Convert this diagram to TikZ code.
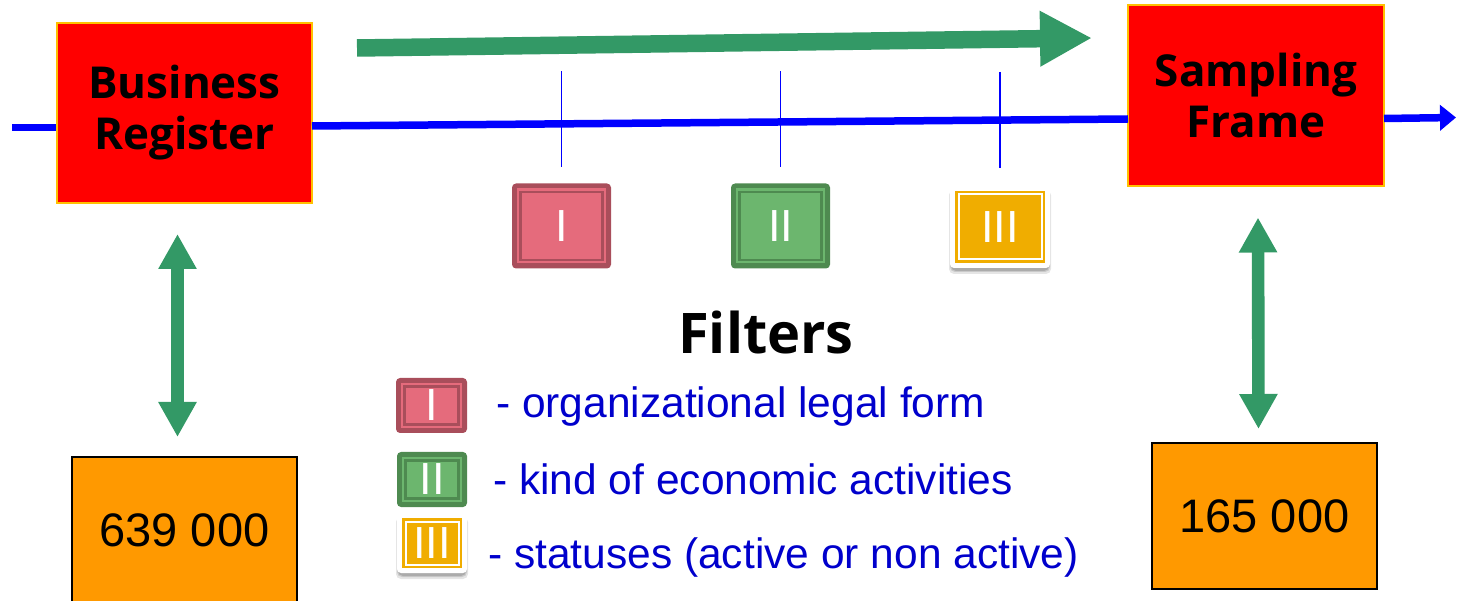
\documentclass[tikz,border=0pt]{standalone}
\usepackage{fontspec}
\setmainfont{Liberation Sans}
\newfontfamily\labfont{Open Sans}
\usetikzlibrary{arrows.meta,calc}
\definecolor{brred}{RGB}{255,0,0}
\definecolor{goldb}{RGB}{255,192,0}
\definecolor{grn}{RGB}{51,153,102}
\definecolor{blu}{RGB}{0,0,255}
\definecolor{txtblue}{RGB}{0,0,204}
\definecolor{orng}{RGB}{255,153,0}
\definecolor{rdark}{RGB}{169,78,91}
\definecolor{rlight}{RGB}{229,107,124}
\definecolor{gdark}{RGB}{78,138,80}
\definecolor{glight}{RGB}{108,182,110}
\definecolor{ylw}{RGB}{240,173,0}
\tikzset{
  redbox/.style={draw=goldb, fill=brred, line width=2pt, inner sep=0pt,
    align=center, font=\labfont\bfseries\fontsize{44}{51}\selectfont},
  numbox/.style={draw=black, fill=orng, line width=2pt, inner sep=0pt,
    minimum width=225pt, minimum height=146pt,
    font=\fontsize{47}{56}\selectfont},
  bluline/.style={draw=blu, line width=7.5pt},
  tickline/.style={draw=blu, line width=1.8pt},
  dblarrow/.style={draw=grn, line width=12.6pt,
    {Triangle[width=36pt,length=35pt]}-{Triangle[width=36pt,length=35pt]}},
  bigarrow/.style={draw=grn, line width=17.5pt, -{Triangle[width=52pt,length=52pt]}},
  numeral/.style={text=white, inner sep=0pt, font=\fontsize{45}{50}\selectfont},
  legtext/.style={text=txtblue, anchor=base west, inner sep=0pt,
    font=\fontsize{42.5}{50}\selectfont},
  softshadow/.style={fill=black, rounded corners=5pt, inner sep=0pt},
}
% #1 name, #2 position, #3 width, #4 height, #5 dark, #6 light, #7 numeral
\newcommand{\filtbox}[7]{%
  \node[fill=#5, rounded corners=4pt, minimum width=#3, minimum height=#4, inner sep=0pt] (#1) at (#2) {};
  \node[fill=#6, minimum width=#3-10, minimum height=#4-10, inner sep=0pt] (#1i) at (#2) {};
  \node[fill=#6, draw=#5, line width=2.5pt, minimum width=#3-17, minimum height=#4-17, inner sep=0pt] (#1j) at (#2) {};
  \node[numeral] (#1t) at (#2) {#7};
}
\newcommand{\statbox}[5]{%
  \node[softshadow, opacity=0.10, minimum width=#3+2, minimum height=#4+2] (#1s1) at ($(#2)+(0,5)$) {};
  \node[softshadow, opacity=0.12, minimum width=#3, minimum height=#4] (#1s2) at ($(#2)+(0,4)$) {};
  \node[softshadow, opacity=0.15, minimum width=#3-2, minimum height=#4] (#1s3) at ($(#2)+(0,3)$) {};
  \node[fill=white, rounded corners=4pt, minimum width=#3, minimum height=#4, inner sep=0pt] (#1) at (#2) {};
  \node[fill=ylw, minimum width=#3-10, minimum height=#4-10, inner sep=0pt] (#1i) at (#2) {};
  \node[draw=white, line width=2pt, minimum width=#3-17, minimum height=#4-17, inner sep=0pt] (#1j) at (#2) {};
  \node[numeral] (#1t) at (#2) {#5};
}
\begin{document}
\begin{tikzpicture}[x=1pt,y=-1pt]
\useasboundingbox (0,0) rectangle (1457,601);

% main boxes
\node[redbox, minimum width=255pt, minimum height=180pt] (br) at (184.5,113) {Business\\Register};
\node[redbox, minimum width=256pt, minimum height=181pt] (sf) at (1256,96) {Sampling\\Frame};

% blue process line
\coordinate (b0) at (12,127.5);
\coordinate (b1) at (312,126);
\coordinate (b2) at (1128,119);
\coordinate (b3) at (1384,118.5);
\coordinate (b4) at (1456,117.5);
\draw[bluline] (b0) -- (b0 -| br.west);
\draw[bluline] (b1) -- (b2);
\draw[bluline, -{Triangle[width=25pt,length=16pt]}] (b3) -- (b4);

% big green arrow
\coordinate (ga) at (357,48);
\coordinate (gb) at (1092,38);
\draw[bigarrow] (ga) -- (gb);

% filter boxes
\filtbox{f1}{561.5,226}{99}{85}{rdark}{rlight}{I}
\filtbox{f2}{780.5,226}{99}{85}{gdark}{glight}{II}
\statbox{f3}{1000,227}{100}{82}{III}

% ticks
\draw[tickline] ($(f1.north)+(0,-112)$) -- ($(f1.north)+(0,-16)$);
\draw[tickline] ($(f2.north)+(0,-112)$) -- ($(f2.north)+(0,-16)$);
\draw[tickline] ($(f3.north)+(0,-114)$) -- ($(f3.north)+(0,-18)$);

% Filters title
\node[font=\labfont\bfseries\fontsize{56}{60}\selectfont, anchor=base, inner sep=0pt] (ft) at (766,354) {Filters};

% legend
\filtbox{l1}{431.5,405.5}{71}{55}{rdark}{rlight}{I}
\filtbox{l2}{432,479.5}{70}{55}{gdark}{glight}{II}
\statbox{l3}{432,543}{70}{60}{III}
\node[legtext] (t1) at (496,418) {- organizational legal form};
\node[legtext] (t2) at (493,494) {- kind of economic activities};
\node[legtext] (t3) at (488,568) {- statuses (active or non active)};

% number boxes
\node[numbox] (n1) at (184.5,530) {639 000};
\node[numbox] (n2) at (1264.5,516) {165 000};

% double arrows
\draw[dblarrow] ($(br.south)+(-7,30)$) -- ($(n1.north)+(-7,-19)$);
\draw[dblarrow] ($(sf.south)+(2,30)$) -- ($(n2.north)+(-6,-13)$);
\end{tikzpicture}
\end{document}
